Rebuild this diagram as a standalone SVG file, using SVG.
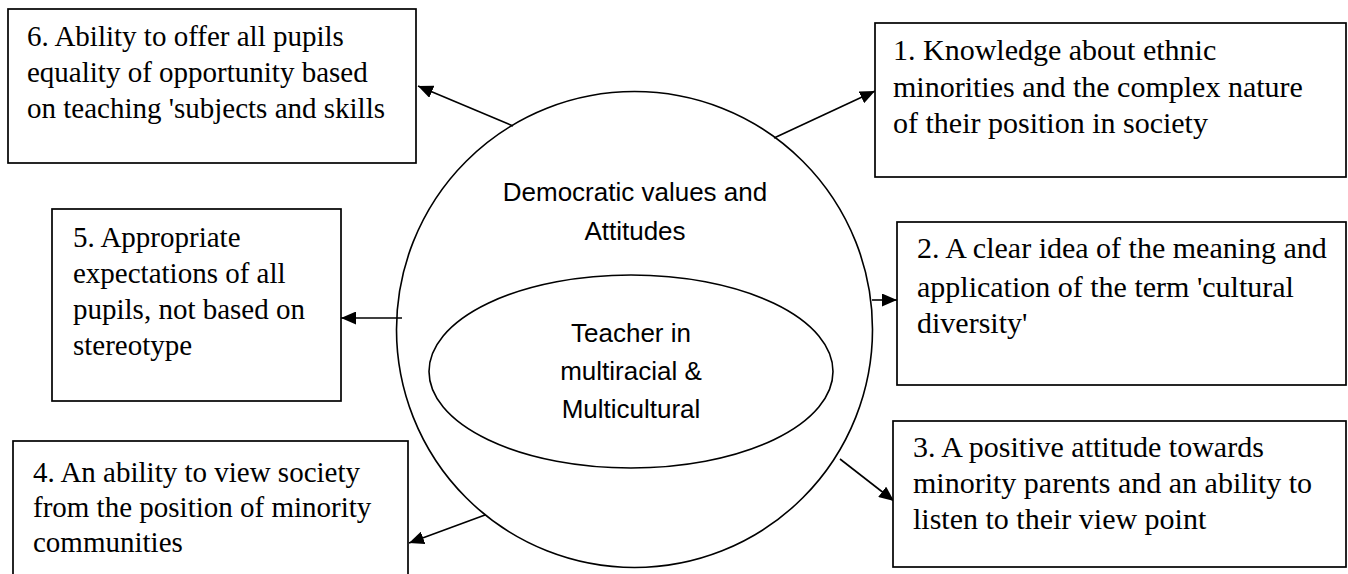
<svg xmlns="http://www.w3.org/2000/svg" width="1348" height="574" viewBox="0 0 1348 574">
<style>
  .box { fill: #ffffff; stroke: #000000; stroke-width: 1.7; }
  .ring { fill: #ffffff; stroke: #000000; stroke-width: 1.6; }
  .t { font-family: "Liberation Serif", "Times New Roman", serif; font-size: 29px; fill: #000000; }
  .tr { font-size: 30px; }
  .s { font-family: "Liberation Sans", Arial, sans-serif; font-size: 26px; fill: #000000; text-anchor: middle; }
  .conn { stroke: #000000; stroke-width: 1.6; fill: none; marker-end: url(#ah); }
</style>
<defs>
  <marker id="ah" markerUnits="userSpaceOnUse" markerWidth="16" markerHeight="13" refX="15" refY="6.5" orient="auto">
    <path d="M0,0 L15,6.5 L0,13 z" fill="#000000"/>
  </marker>
</defs>
<rect width="1348" height="574" fill="#ffffff"/>

<g id="center">
  <circle class="ring" cx="634.5" cy="329.5" r="238"/>
  <text class="s" x="635" y="201">Democratic values and</text>
  <text class="s" x="635" y="240">Attitudes</text>
  <g id="inner">
    <ellipse class="ring" cx="631" cy="371.5" rx="202" ry="96.5"/>
    <text class="s" x="631" y="342">Teacher in</text>
    <text class="s" x="631" y="380">multiracial &amp;</text>
    <text class="s" x="631" y="418">Multicultural</text>
  </g>
</g>

<g id="connectors">
  <line class="conn" x1="513" y1="126" x2="418" y2="86"/>
  <line class="conn" x1="774" y1="138" x2="875" y2="91"/>
  <line class="conn" x1="402" y1="318" x2="341" y2="318"/>
  <line class="conn" x1="872" y1="300" x2="897" y2="300"/>
  <line class="conn" x1="485" y1="515" x2="409" y2="543"/>
  <line class="conn" x1="840" y1="459" x2="894" y2="501"/>
</g>

<g id="node6">
  <rect class="box" x="8" y="9" width="408" height="154"/>
  <text class="t" x="27" y="46">6. Ability to offer all pupils</text>
  <text class="t" x="27" y="82">equality of opportunity based</text>
  <text class="t" x="27" y="118">on teaching 'subjects and skills</text>
</g>

<g id="node1">
  <rect class="box" x="875" y="23" width="471" height="154"/>
  <text class="t tr" x="893" y="60">1. Knowledge about ethnic</text>
  <text class="t tr" x="893" y="97">minorities and the complex nature</text>
  <text class="t tr" x="893" y="133">of their position in society</text>
</g>

<g id="node5">
  <rect class="box" x="52" y="209" width="289" height="192"/>
  <text class="t" x="73" y="247">5. Appropriate</text>
  <text class="t" x="73" y="283">expectations of all</text>
  <text class="t" x="73" y="319">pupils, not based on</text>
  <text class="t" x="73" y="355">stereotype</text>
</g>

<g id="node2">
  <rect class="box" x="897" y="222" width="449" height="163"/>
  <text class="t tr" x="917" y="258">2. A clear idea of the meaning and</text>
  <text class="t tr" x="917" y="297">application of the term 'cultural</text>
  <text class="t tr" x="917" y="333">diversity'</text>
</g>

<g id="node4">
  <rect class="box" x="13" y="441" width="395" height="140"/>
  <text class="t" x="33" y="482">4. An ability to view society</text>
  <text class="t" x="33" y="517">from the position of minority</text>
  <text class="t" x="33" y="552">communities</text>
</g>

<g id="node3">
  <rect class="box" x="893" y="421" width="453" height="146"/>
  <text class="t tr" x="913" y="457">3. A positive attitude towards</text>
  <text class="t tr" x="913" y="493">minority parents and an ability to</text>
  <text class="t tr" x="913" y="529">listen to their view point</text>
</g>
</svg>
